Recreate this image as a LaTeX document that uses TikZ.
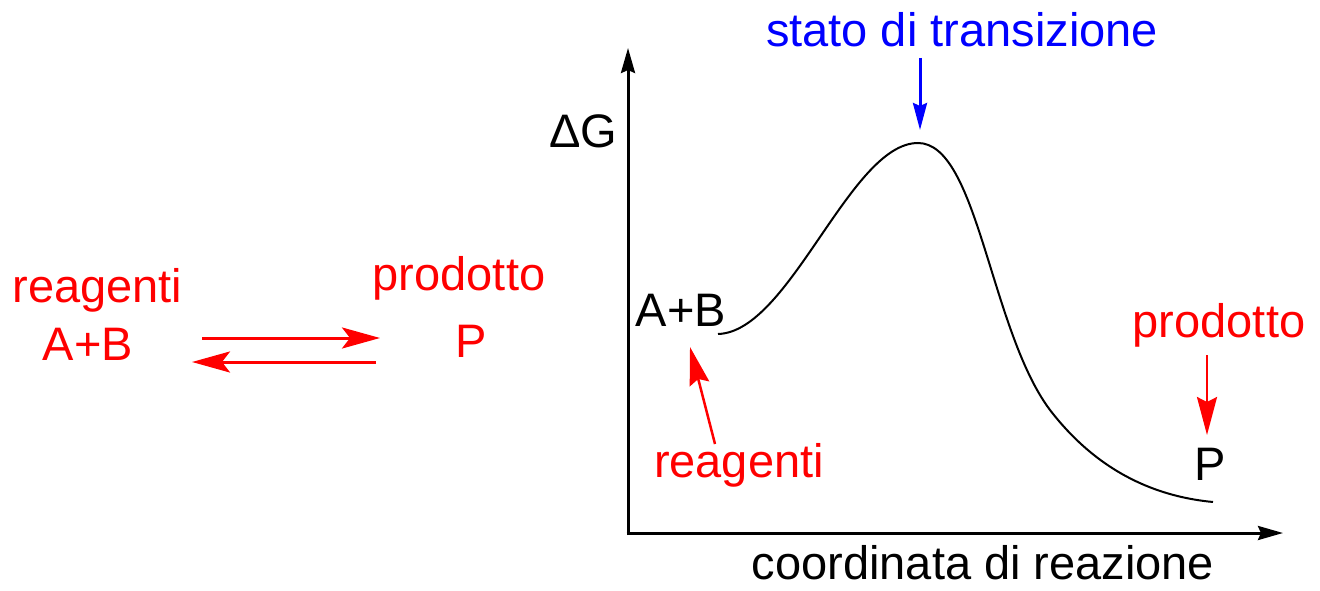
\documentclass[tikz,border=0pt]{standalone}
\usepackage{fontspec}
\setmainfont{Liberation Sans}
\usetikzlibrary{arrows.meta}
\begin{document}
\begin{tikzpicture}[x=1pt,y=-1pt,
  lbl/.style={anchor=base,inner sep=0pt,font=\fontsize{47}{56}\selectfont},
  redarr/.style={draw=red,line width=3pt,-{Stealth[length=38pt,width=21pt,inset=8pt]}},
  axis/.style={draw=black,line width=3pt,-{Stealth[length=25pt,width=14pt,inset=3pt]}},
  bluearr/.style={draw=blue,line width=3pt,-{Stealth[length=27pt,width=14pt,inset=3pt]}},
  redarrs/.style={draw=red,line width=2.5pt,-{Stealth[length=38pt,width=20pt,inset=5pt]}}]
\useasboundingbox (0,0) rectangle (1320,591);
% left part
\node[lbl,text=red] (reagL) at (97.5,302) {reagenti};
\node[lbl,text=red] (abL) at (88,360) {A+B};
\node[lbl,text=red] (prodL) at (459,290) {prodotto};
\node[lbl,text=red] (pL) at (471,357) {P};
\coordinate (f1) at (202,338);
\coordinate (f2) at (380,338);
\coordinate (b1) at (376,362);
\coordinate (b2) at (192,362);
\draw[redarr] (f1) -- (f2);
\draw[redarr] (b1) -- (b2);
% axes
\coordinate (ybot) at (628,535);
\coordinate (ytop) at (628,48);
\coordinate (xbeg) at (626.5,533);
\coordinate (xend) at (1283,533);
\draw[axis] (ybot) -- (ytop);
\draw[axis] (xbeg) -- (xend);
\node[lbl] (dG) at (583,148) {ΔG};
\node[lbl,text depth=0pt] (xlab) at (983,579) {coordinata di reazione};
% curve
\coordinate (c0) at (718,334);
\coordinate (peak) at (918,143);
\coordinate (c1) at (1050,410);
\coordinate (c2) at (1213,502);
\draw[line width=2pt] (c0) .. controls (790,332) and (850,143) .. (peak)
  .. controls (978,143) and (990,330) .. (c1)
  .. controls (1100,475) and (1160,497) .. (c2);
% labels on plot
\node[lbl,text=blue] (ts) at (962,47) {stato di transizione};
\coordinate (ts1) at (920,58);
\coordinate (ts2) at (920,130);
\draw[bluearr] (ts1) -- (ts2);
\node[lbl] (abR) at (681,326) {A+B};
\node[lbl,text=red] (reagR) at (739,477) {reagenti};
\coordinate (r1) at (715,444);
\coordinate (r2) at (690,347);
\draw[redarrs] (r1) -- (r2);
\node[lbl,text=red] (prodR) at (1219,337) {prodotto};
\coordinate (p1) at (1207,355);
\coordinate (p2) at (1207,435);
\draw[redarrs] (p1) -- (p2);
\node[lbl] (pR) at (1210,480) {P};
\end{tikzpicture}
\end{document}
